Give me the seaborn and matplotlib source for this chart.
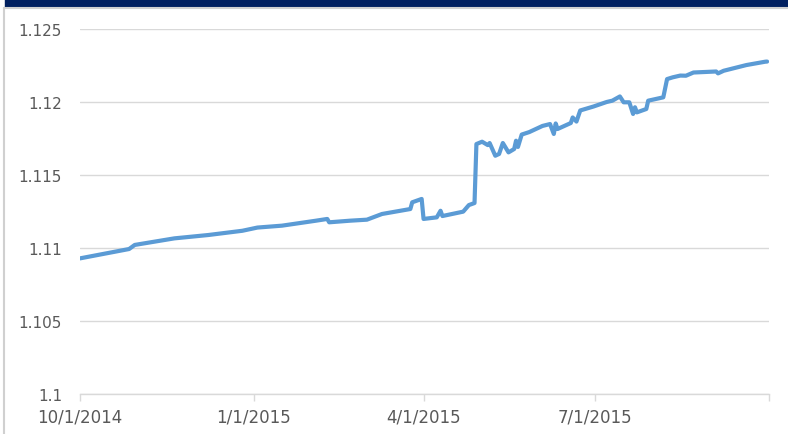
import pandas as pd
import matplotlib
matplotlib.use("Agg")
import matplotlib.pyplot as plt
import seaborn as sns
from matplotlib.patches import Rectangle
from matplotlib.lines import Line2D

# Данные
dates = [
    "2014-10-01", "2014-10-27", "2014-10-30", "2014-11-20", "2014-12-08",
    "2014-12-26", "2015-01-03", "2015-01-16", "2015-02-03", "2015-02-09",
    "2015-02-10", "2015-02-21", "2015-03-02", "2015-03-10", "2015-03-25",
    "2015-03-26", "2015-03-31", "2015-04-01", "2015-04-08", "2015-04-10",
    "2015-04-11", "2015-04-22", "2015-04-25", "2015-04-28", "2015-04-29",
    "2015-05-02", "2015-05-05", "2015-05-06", "2015-05-09", "2015-05-11",
    "2015-05-13", "2015-05-16", "2015-05-19", "2015-05-20", "2015-05-21",
    "2015-05-23", "2015-05-27", "2015-06-03", "2015-06-07", "2015-06-09",
    "2015-06-10", "2015-06-11", "2015-06-18", "2015-06-19", "2015-06-21",
    "2015-06-23", "2015-06-30", "2015-07-07", "2015-07-10", "2015-07-14",
    "2015-07-16", "2015-07-19", "2015-07-21", "2015-07-22", "2015-07-23",
    "2015-07-28", "2015-07-29", "2015-08-06", "2015-08-08", "2015-08-11",
    "2015-08-15", "2015-08-18", "2015-08-22", "2015-09-03", "2015-09-04",
    "2015-09-07", "2015-09-19", "2015-09-29", "2015-09-30",
]
values = [
    1.10929, 1.10993, 1.11021, 1.11066, 1.11089,
    1.11118, 1.11140, 1.11153, 1.11187, 1.11199,
    1.11176, 1.11187, 1.11194, 1.11233, 1.11267,
    1.11313, 1.11336, 1.11199, 1.11210, 1.11255,
    1.11219, 1.11249, 1.11294, 1.11308, 1.11712,
    1.11728, 1.11705, 1.11719, 1.11632, 1.11644,
    1.11719, 1.11655, 1.11678, 1.11735, 1.11692,
    1.11777, 1.11794, 1.11836, 1.11849, 1.11781,
    1.11853, 1.11815, 1.11856, 1.11894, 1.11866,
    1.11942, 1.11969, 1.12000, 1.12009, 1.12038,
    1.11998, 1.11998, 1.11918, 1.11964, 1.11929,
    1.11952, 1.12009, 1.12032, 1.12157, 1.12169,
    1.12181, 1.12180, 1.12202, 1.12209, 1.12196,
    1.12214, 1.12253, 1.12276, 1.12277,
]

x_ticks = ["2014-10-01", "2015-01-01", "2015-04-01", "2015-07-01", "2015-10-01"]
x_tick_labels = ["10/1/2014", "1/1/2015", "4/1/2015", "7/1/2015", ""]
y_ticks = [1.1, 1.105, 1.11, 1.115, 1.12, 1.125]
y_tick_labels = ["1.1", "1.105", "1.11", "1.115", "1.12", "1.125"]

df = pd.DataFrame({"date": pd.to_datetime(dates), "value": values})

sns.set_style("white")
plt.rcParams["font.family"] = ["DejaVu Sans"]

fig = plt.figure(figsize=(7.88, 4.35), dpi=100)
ax = fig.add_axes([80 / 788, 40 / 435, 689 / 788, 365 / 435])

sns.lineplot(data=df, x="date", y="value", ax=ax, color="#5B9BD5", linewidth=3.0)

ax.set_xlim(pd.Timestamp("2014-10-01"), pd.Timestamp("2015-10-01"))
ax.set_ylim(1.1, 1.125)
ax.set_xticks(pd.to_datetime(x_ticks))
ax.set_xticklabels(x_tick_labels)
ax.set_yticks(y_ticks)
ax.set_yticklabels(y_tick_labels)
ax.set_xlabel("")
ax.set_ylabel("")

grid_col = "#D9D9D9"
ax.grid(axis="y", color=grid_col, linewidth=1)
ax.grid(axis="x", visible=False)
for side in ["top", "right", "left"]:
    ax.spines[side].set_visible(False)
ax.spines["bottom"].set_color(grid_col)
ax.spines["bottom"].set_linewidth(1)
ax.tick_params(axis="x", length=5, color=grid_col, width=1, pad=5,
               labelsize=12, labelcolor="#595959", bottom=True)
ax.tick_params(axis="y", length=0, pad=13, labelsize=11, labelcolor="#595959")

# Рамка и тёмная полоса сверху
fig.patches.append(Rectangle((5 / 788, 1 - 7.5 / 435), 1, 7.5 / 435,
                             transform=fig.transFigure, color="#012060", zorder=0))
fig.lines.append(Line2D([3.5 / 788, 3.5 / 788], [0, 1 - 8.5 / 435],
                        transform=fig.transFigure, color="#D0D0D0", linewidth=1.5))
fig.lines.append(Line2D([3.5 / 788, 1], [1 - 9 / 435, 1 - 9 / 435],
                        transform=fig.transFigure, color="#D0D0D0", linewidth=1.5))

fig.savefig("out.png", dpi=100)
